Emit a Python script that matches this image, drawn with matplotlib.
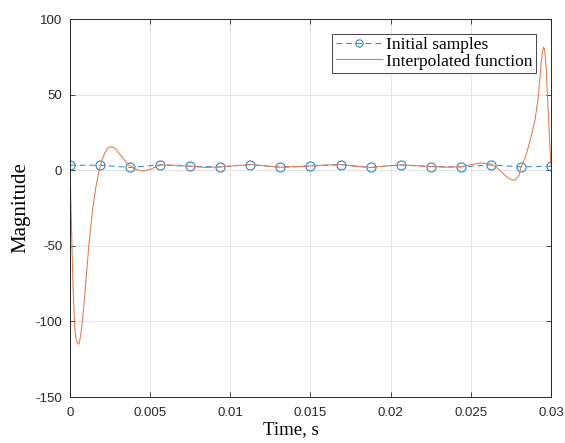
import numpy as np
import matplotlib
matplotlib.use("Agg")
import matplotlib.pyplot as plt

# Initial samples (17 points over 0..0.03 s)
sample_t = np.linspace(0, 0.03, 17)
sample_val = [3.3, 3.3, 1.8, 3.5, 2.6, 2.2, 3.7, 2.0, 2.7, 3.7, 1.8, 3.5, 2.4, 2.2, 3.5, 2.2, 2.6]

# Interpolated function
interp_t = [0.0, 0.00005, 0.0001, 0.00015, 0.0002, 0.0003, 0.0004, 0.0005, 0.00055, 0.0006,
            0.0007, 0.0008, 0.0009, 0.001, 0.0012, 0.0014, 0.0016, 0.0018, 0.002, 0.0022,
            0.0024, 0.0026, 0.0028, 0.003, 0.0033, 0.0036, 0.004, 0.0045, 0.005, 0.0056,
            0.0066, 0.0075, 0.0085, 0.0094, 0.0103, 0.0113, 0.0122, 0.0131, 0.0141, 0.015,
            0.0159, 0.0169, 0.0178, 0.0188, 0.0197, 0.0206, 0.0216, 0.0225, 0.0234, 0.0244,
            0.025, 0.0256, 0.0263, 0.0267, 0.027, 0.0273, 0.0276, 0.0278, 0.028, 0.02813,
            0.0283, 0.0285, 0.0288, 0.029, 0.0292, 0.0293, 0.0294, 0.02952, 0.0296, 0.0297,
            0.02977, 0.02986, 0.0299, 0.02995, 0.03]
interp_val = [3.0, -20, -40, -62, -80, -105, -113, -115, -115, -113,
              -107, -97, -85, -72, -47, -27, -12, -1, 7, 12,
              15, 15.5, 14.5, 12, 8, 4, 1.0, -0.5, 0.5, 3.5,
              3.3, 2.6, 1.8, 2.2, 3.0, 3.7, 2.8, 2.0, 2.4, 2.8,
              3.4, 3.7, 2.6, 1.8, 2.8, 3.5, 3.0, 2.4, 2.0, 2.3,
              3.6, 4.8, 4.0, 1.0, -2.0, -5.0, -6.6, -6.2, -3.5, 2.2,
              6.0, 12, 24, 33, 48, 60, 72, 81.5, 80, 68,
              50, 33, 22, 12, 3.0]

x_ticks = [0, 0.005, 0.01, 0.015, 0.02, 0.025, 0.03]
x_tick_labels = ["0", "0.005", "0.01", "0.015", "0.02", "0.025", "0.03"]
y_ticks = [-150, -100, -50, 0, 50, 100]

plt.rcParams['font.family'] = ['Liberation Sans', 'DejaVu Sans']
plt.rcParams['axes.unicode_minus'] = False

fig = plt.figure(figsize=(5.65, 4.43), dpi=100)
ax = fig.add_axes([0.1239, 0.1038, 0.8513, 0.8533])

ax.plot(sample_t, sample_val, '--o', color='#2f86c4', linewidth=0.7, markersize=6.5,
        markerfacecolor='none', markeredgewidth=0.8, dashes=(6, 4), label='Initial samples')
ax.plot(interp_t, interp_val, '-', color='#e07a4f', linewidth=0.75, label='Interpolated function')

ax.set_xlim(0, 0.03)
ax.set_ylim(-150, 100)
ax.set_xticks(x_ticks)
ax.set_xticklabels(x_tick_labels)
ax.set_yticks(y_ticks)
ax.tick_params(direction='in', top=True, right=True, labelsize=9.5, colors='#262626', length=3.5, width=0.6)
ax.tick_params(axis='x', pad=7)
ax.tick_params(axis='y', pad=5.5)
for s in ax.spines.values():
    s.set_color('#262626')
    s.set_linewidth(0.7)
ax.grid(True, color='#e0e0e0', linewidth=0.6)

ax.set_xlabel('Time, s', family='Liberation Serif', fontsize=13.5)
ax.xaxis.set_label_coords(0.46, -0.063)
ax.set_ylabel('Magnitude', family='Liberation Serif', fontsize=15, labelpad=4)

leg = ax.legend(loc='upper right', prop={'family': 'Liberation Serif', 'size': 12.5},
                handlelength=2.65, borderaxespad=0.85, fancybox=False, framealpha=1,
                borderpad=0.2, labelspacing=0.0, handletextpad=0.25, markerscale=0.8)
leg.get_frame().set_edgecolor('#444444')
leg.get_frame().set_linewidth(0.7)

fig.savefig('out.png', dpi=100)
